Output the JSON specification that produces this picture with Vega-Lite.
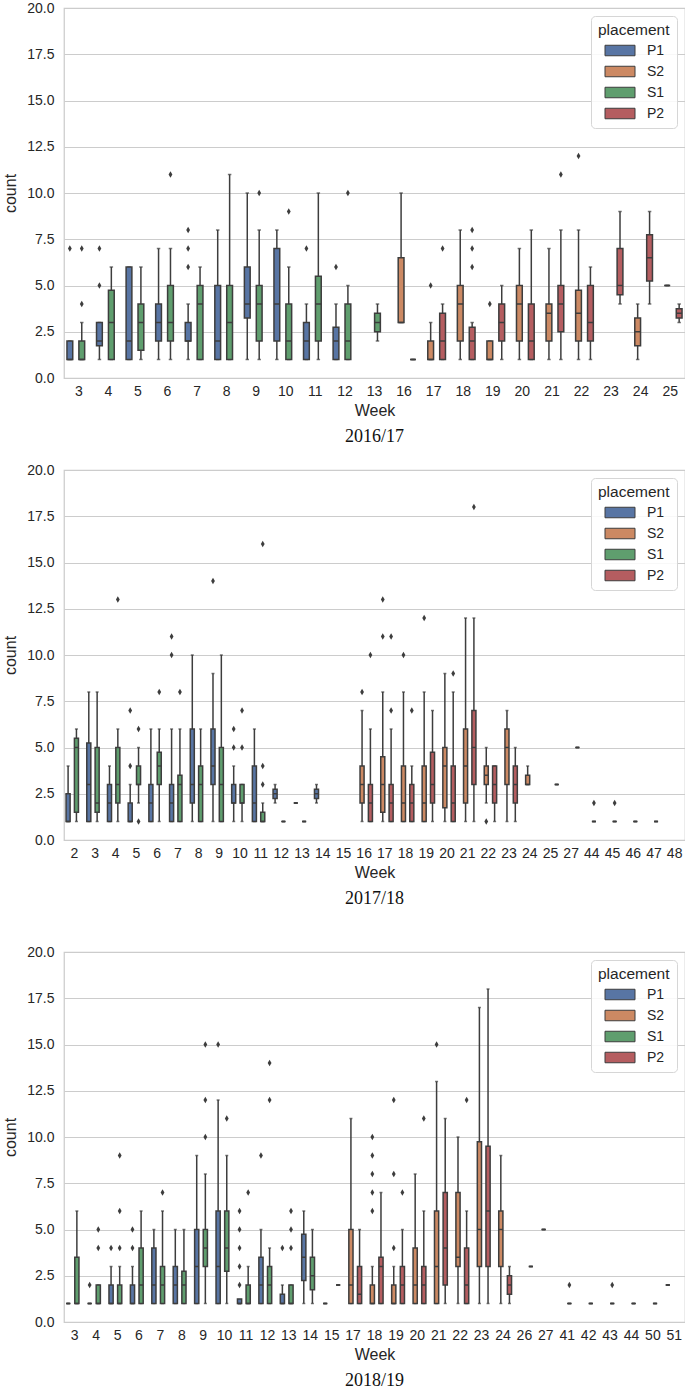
{
  "$schema": "https://vega.github.io/schema/vega-lite/v6.json",
  "padding": {"left": 2, "top": 0, "right": 0, "bottom": 0},
  "spacing": 15,
  "config": {
    "font": "Liberation Sans",
    "view": {"stroke": "#cccccc", "strokeWidth": 1.25},
    "axis": {"labelFontSize": 14, "titleFontSize": 16, "labelColor": "#262626", "titleColor": "#262626", "ticks": false, "domain": false, "gridColor": "#cccccc", "gridWidth": 1, "titleFontWeight": "normal", "labelFont": "Liberation Sans", "titleFont": "Liberation Sans"},
    "title": {"font": "Liberation Serif", "fontSize": 18, "fontWeight": "normal", "color": "#111111"},
    "legend": {"titleFontSize": 15.5, "titleFontWeight": "normal", "titleColor": "#262626", "titleFont": "Liberation Sans", "labelFontSize": 14, "labelColor": "#262626", "labelFont": "Liberation Sans", "symbolType": "M-2,-0.7H2V0.7H-2Z", "symbolSize": 225, "symbolOffset": 14, "symbolStrokeColor": "#3d3d3d", "symbolStrokeWidth": 1, "symbolOpacity": 1, "fillColor": "rgba(255,255,255,0.85)", "strokeColor": "#d6d6d6", "cornerRadius": 4, "padding": 7, "rowPadding": 5, "labelOffset": 19, "titlePadding": 4, "orient": "top-right", "offset": 8}
  },
  "resolve": {"scale": {"color": "independent", "x": "independent", "xOffset": "independent"}, "legend": {"color": "independent"}},
  "datasets": {
    "boxes": [
      {"season":"2016/17","week":3,"placement":"P1","low":1,"q1":1,"median":1,"q3":2,"high":2},
      {"season":"2016/17","week":3,"placement":"S1","low":1,"q1":1,"median":1,"q3":2,"high":3},
      {"season":"2016/17","week":4,"placement":"P1","low":1,"q1":1.75,"median":2,"q3":3,"high":3},
      {"season":"2016/17","week":4,"placement":"S1","low":1,"q1":1,"median":3,"q3":4.75,"high":6},
      {"season":"2016/17","week":5,"placement":"P1","low":1,"q1":1,"median":2,"q3":6,"high":6},
      {"season":"2016/17","week":5,"placement":"S1","low":1,"q1":1.5,"median":3,"q3":4,"high":6},
      {"season":"2016/17","week":6,"placement":"P1","low":1,"q1":2,"median":3,"q3":4,"high":7},
      {"season":"2016/17","week":6,"placement":"S1","low":1,"q1":2,"median":3,"q3":5,"high":7},
      {"season":"2016/17","week":7,"placement":"P1","low":1,"q1":2,"median":2,"q3":3,"high":4},
      {"season":"2016/17","week":7,"placement":"S1","low":1,"q1":1,"median":4,"q3":5,"high":6},
      {"season":"2016/17","week":8,"placement":"P1","low":1,"q1":1,"median":2,"q3":5,"high":8},
      {"season":"2016/17","week":8,"placement":"S1","low":1,"q1":1,"median":3,"q3":5,"high":11},
      {"season":"2016/17","week":9,"placement":"P1","low":1,"q1":3.25,"median":4,"q3":6,"high":10},
      {"season":"2016/17","week":9,"placement":"S1","low":1,"q1":2,"median":4,"q3":5,"high":8},
      {"season":"2016/17","week":10,"placement":"P1","low":1,"q1":2,"median":4,"q3":7,"high":8},
      {"season":"2016/17","week":10,"placement":"S1","low":1,"q1":1,"median":2,"q3":4,"high":6},
      {"season":"2016/17","week":11,"placement":"P1","low":1,"q1":1,"median":2,"q3":3,"high":4},
      {"season":"2016/17","week":11,"placement":"S1","low":1,"q1":2,"median":4,"q3":5.5,"high":10},
      {"season":"2016/17","week":12,"placement":"P1","low":1,"q1":1,"median":2,"q3":2.75,"high":4},
      {"season":"2016/17","week":12,"placement":"S1","low":1,"q1":1,"median":2,"q3":4,"high":5},
      {"season":"2016/17","week":13,"placement":"S1","low":2,"q1":2.5,"median":3,"q3":3.5,"high":4},
      {"season":"2016/17","week":16,"placement":"S2","low":3,"q1":3,"median":3,"q3":6.5,"high":10},
      {"season":"2016/17","week":16,"placement":"P2","low":1,"q1":1,"median":1,"q3":1,"high":1},
      {"season":"2016/17","week":17,"placement":"S2","low":1,"q1":1,"median":1,"q3":2,"high":3},
      {"season":"2016/17","week":17,"placement":"P2","low":1,"q1":1,"median":2,"q3":3.5,"high":4},
      {"season":"2016/17","week":18,"placement":"S2","low":1,"q1":2,"median":4,"q3":5,"high":8},
      {"season":"2016/17","week":18,"placement":"P2","low":1,"q1":1,"median":2,"q3":2.75,"high":3},
      {"season":"2016/17","week":19,"placement":"S2","low":1,"q1":1,"median":1,"q3":2,"high":2},
      {"season":"2016/17","week":19,"placement":"P2","low":1,"q1":2,"median":3,"q3":4,"high":5},
      {"season":"2016/17","week":20,"placement":"S2","low":1,"q1":2,"median":4,"q3":5,"high":7},
      {"season":"2016/17","week":20,"placement":"P2","low":1,"q1":1,"median":2,"q3":4,"high":8},
      {"season":"2016/17","week":21,"placement":"S2","low":1,"q1":2,"median":3.5,"q3":4,"high":7},
      {"season":"2016/17","week":21,"placement":"P2","low":1,"q1":2.5,"median":4,"q3":5,"high":8},
      {"season":"2016/17","week":22,"placement":"S2","low":1,"q1":2,"median":3.5,"q3":4.75,"high":8},
      {"season":"2016/17","week":22,"placement":"P2","low":1,"q1":2,"median":3,"q3":5,"high":6},
      {"season":"2016/17","week":23,"placement":"P2","low":4,"q1":4.5,"median":5,"q3":7,"high":9},
      {"season":"2016/17","week":24,"placement":"S2","low":1,"q1":1.75,"median":2.5,"q3":3.25,"high":4},
      {"season":"2016/17","week":24,"placement":"P2","low":4,"q1":5.25,"median":6.5,"q3":7.75,"high":9},
      {"season":"2016/17","week":25,"placement":"S2","low":5,"q1":5,"median":5,"q3":5,"high":5},
      {"season":"2016/17","week":25,"placement":"P2","low":3,"q1":3.25,"median":3.5,"q3":3.75,"high":4},

      {"season":"2017/18","week":2,"placement":"P1","low":1,"q1":1,"median":1,"q3":2.5,"high":4},
      {"season":"2017/18","week":2,"placement":"S1","low":1,"q1":1.5,"median":5,"q3":5.5,"high":6},
      {"season":"2017/18","week":3,"placement":"P1","low":1,"q1":1,"median":3,"q3":5.25,"high":8},
      {"season":"2017/18","week":3,"placement":"S1","low":1,"q1":1.5,"median":2,"q3":5,"high":8},
      {"season":"2017/18","week":4,"placement":"P1","low":1,"q1":1,"median":2,"q3":3,"high":4},
      {"season":"2017/18","week":4,"placement":"S1","low":1,"q1":2,"median":3,"q3":5,"high":6},
      {"season":"2017/18","week":5,"placement":"P1","low":1,"q1":1,"median":1,"q3":2,"high":3},
      {"season":"2017/18","week":5,"placement":"S1","low":2,"q1":3,"median":3,"q3":4,"high":5},
      {"season":"2017/18","week":6,"placement":"P1","low":1,"q1":1,"median":2,"q3":3,"high":6},
      {"season":"2017/18","week":6,"placement":"S1","low":1,"q1":3,"median":4,"q3":4.75,"high":6},
      {"season":"2017/18","week":7,"placement":"P1","low":1,"q1":1,"median":2,"q3":3,"high":6},
      {"season":"2017/18","week":7,"placement":"S1","low":1,"q1":1,"median":3,"q3":3.5,"high":6},
      {"season":"2017/18","week":8,"placement":"P1","low":1,"q1":2,"median":3,"q3":6,"high":10},
      {"season":"2017/18","week":8,"placement":"S1","low":1,"q1":1,"median":3,"q3":4,"high":6},
      {"season":"2017/18","week":9,"placement":"P1","low":1,"q1":3,"median":4,"q3":6,"high":9},
      {"season":"2017/18","week":9,"placement":"S1","low":1,"q1":1,"median":3,"q3":5,"high":10},
      {"season":"2017/18","week":10,"placement":"P1","low":1,"q1":2,"median":2,"q3":3,"high":4},
      {"season":"2017/18","week":10,"placement":"S1","low":1,"q1":2,"median":2,"q3":3,"high":3},
      {"season":"2017/18","week":11,"placement":"P1","low":1,"q1":1,"median":2,"q3":4,"high":6},
      {"season":"2017/18","week":11,"placement":"S1","low":1,"q1":1,"median":1,"q3":1.5,"high":2},
      {"season":"2017/18","week":12,"placement":"P1","low":2,"q1":2.25,"median":2.5,"q3":2.75,"high":3},
      {"season":"2017/18","week":12,"placement":"S1","low":1,"q1":1,"median":1,"q3":1,"high":1},
      {"season":"2017/18","week":13,"placement":"P1","low":2,"q1":2,"median":2,"q3":2,"high":2},
      {"season":"2017/18","week":13,"placement":"S1","low":1,"q1":1,"median":1,"q3":1,"high":1},
      {"season":"2017/18","week":14,"placement":"P1","low":2,"q1":2.25,"median":2.5,"q3":2.75,"high":3},
      {"season":"2017/18","week":16,"placement":"S2","low":1,"q1":2,"median":3,"q3":4,"high":7},
      {"season":"2017/18","week":16,"placement":"P2","low":1,"q1":1,"median":2,"q3":3,"high":6},
      {"season":"2017/18","week":17,"placement":"S2","low":1,"q1":1.5,"median":3,"q3":4.5,"high":8},
      {"season":"2017/18","week":17,"placement":"P2","low":1,"q1":1,"median":2,"q3":3,"high":6},
      {"season":"2017/18","week":18,"placement":"S2","low":1,"q1":1,"median":2,"q3":4,"high":8},
      {"season":"2017/18","week":18,"placement":"P2","low":1,"q1":1,"median":2,"q3":3,"high":4},
      {"season":"2017/18","week":19,"placement":"S2","low":1,"q1":1,"median":2,"q3":4,"high":8},
      {"season":"2017/18","week":19,"placement":"P2","low":1,"q1":2,"median":3,"q3":4.75,"high":7},
      {"season":"2017/18","week":20,"placement":"S2","low":1,"q1":1.75,"median":4,"q3":5,"high":9},
      {"season":"2017/18","week":20,"placement":"P2","low":1,"q1":1,"median":2,"q3":4,"high":8},
      {"season":"2017/18","week":21,"placement":"S2","low":1,"q1":2,"median":4,"q3":6,"high":12},
      {"season":"2017/18","week":21,"placement":"P2","low":1,"q1":3,"median":5,"q3":7,"high":12},
      {"season":"2017/18","week":22,"placement":"S2","low":2,"q1":3,"median":3.5,"q3":4,"high":5},
      {"season":"2017/18","week":22,"placement":"P2","low":1,"q1":2,"median":3,"q3":4,"high":4},
      {"season":"2017/18","week":23,"placement":"S2","low":1,"q1":3,"median":5,"q3":6,"high":7},
      {"season":"2017/18","week":23,"placement":"P2","low":1,"q1":2,"median":3,"q3":4,"high":5},
      {"season":"2017/18","week":24,"placement":"S2","low":3,"q1":3,"median":3,"q3":3.5,"high":4},
      {"season":"2017/18","week":25,"placement":"P2","low":3,"q1":3,"median":3,"q3":3,"high":3},
      {"season":"2017/18","week":27,"placement":"P2","low":5,"q1":5,"median":5,"q3":5,"high":5},
      {"season":"2017/18","week":44,"placement":"S1","low":1,"q1":1,"median":1,"q3":1,"high":1},
      {"season":"2017/18","week":45,"placement":"S1","low":1,"q1":1,"median":1,"q3":1,"high":1},
      {"season":"2017/18","week":46,"placement":"S1","low":1,"q1":1,"median":1,"q3":1,"high":1},
      {"season":"2017/18","week":47,"placement":"S1","low":1,"q1":1,"median":1,"q3":1,"high":1},

      {"season":"2018/19","week":3,"placement":"P1","low":1,"q1":1,"median":1,"q3":1,"high":1},
      {"season":"2018/19","week":3,"placement":"S1","low":1,"q1":1,"median":1,"q3":3.5,"high":6},
      {"season":"2018/19","week":4,"placement":"P1","low":1,"q1":1,"median":1,"q3":1,"high":1},
      {"season":"2018/19","week":4,"placement":"S1","low":1,"q1":1,"median":1,"q3":2,"high":2},
      {"season":"2018/19","week":5,"placement":"P1","low":1,"q1":1,"median":1,"q3":2,"high":3},
      {"season":"2018/19","week":5,"placement":"S1","low":1,"q1":1,"median":1,"q3":2,"high":3},
      {"season":"2018/19","week":6,"placement":"P1","low":1,"q1":1,"median":1,"q3":2,"high":3},
      {"season":"2018/19","week":6,"placement":"S1","low":1,"q1":1,"median":2,"q3":4,"high":6},
      {"season":"2018/19","week":7,"placement":"P1","low":1,"q1":1,"median":2,"q3":4,"high":5},
      {"season":"2018/19","week":7,"placement":"S1","low":1,"q1":1,"median":2,"q3":3,"high":6},
      {"season":"2018/19","week":8,"placement":"P1","low":1,"q1":1,"median":2,"q3":3,"high":5},
      {"season":"2018/19","week":8,"placement":"S1","low":1,"q1":1,"median":2,"q3":2.75,"high":5},
      {"season":"2018/19","week":9,"placement":"P1","low":1,"q1":1,"median":3,"q3":5,"high":9},
      {"season":"2018/19","week":9,"placement":"S1","low":1,"q1":3,"median":4,"q3":5,"high":8},
      {"season":"2018/19","week":10,"placement":"P1","low":1,"q1":1,"median":3,"q3":6,"high":12},
      {"season":"2018/19","week":10,"placement":"S1","low":1,"q1":2.75,"median":4,"q3":6,"high":9},
      {"season":"2018/19","week":11,"placement":"P1","low":1,"q1":1,"median":1,"q3":1.25,"high":1},
      {"season":"2018/19","week":11,"placement":"S1","low":1,"q1":1,"median":1,"q3":2,"high":3},
      {"season":"2018/19","week":12,"placement":"P1","low":1,"q1":1,"median":2,"q3":3.5,"high":5},
      {"season":"2018/19","week":12,"placement":"S1","low":1,"q1":1,"median":2,"q3":3,"high":4},
      {"season":"2018/19","week":13,"placement":"P1","low":1,"q1":1,"median":1,"q3":1.5,"high":2},
      {"season":"2018/19","week":13,"placement":"S1","low":1,"q1":1,"median":1,"q3":2,"high":2},
      {"season":"2018/19","week":14,"placement":"P1","low":1,"q1":2.25,"median":3.5,"q3":4.75,"high":6},
      {"season":"2018/19","week":14,"placement":"S1","low":1,"q1":1.75,"median":2.5,"q3":3.5,"high":5},
      {"season":"2018/19","week":15,"placement":"P1","low":1,"q1":1,"median":1,"q3":1,"high":1},
      {"season":"2018/19","week":15,"placement":"P2","low":2,"q1":2,"median":2,"q3":2,"high":2},
      {"season":"2018/19","week":17,"placement":"S2","low":1,"q1":1,"median":2,"q3":5,"high":11},
      {"season":"2018/19","week":17,"placement":"P2","low":1,"q1":1,"median":1.5,"q3":3,"high":5},
      {"season":"2018/19","week":18,"placement":"S2","low":1,"q1":1,"median":1,"q3":2,"high":3},
      {"season":"2018/19","week":18,"placement":"P2","low":1,"q1":1,"median":3,"q3":3.5,"high":7},
      {"season":"2018/19","week":19,"placement":"S2","low":1,"q1":1,"median":1,"q3":2,"high":3},
      {"season":"2018/19","week":19,"placement":"P2","low":1,"q1":1,"median":2,"q3":3,"high":5},
      {"season":"2018/19","week":20,"placement":"S2","low":1,"q1":1,"median":2,"q3":4,"high":8},
      {"season":"2018/19","week":20,"placement":"P2","low":1,"q1":1,"median":2,"q3":3,"high":6},
      {"season":"2018/19","week":21,"placement":"S2","low":1,"q1":1,"median":3,"q3":6,"high":13},
      {"season":"2018/19","week":21,"placement":"P2","low":1,"q1":2,"median":4,"q3":7,"high":11},
      {"season":"2018/19","week":22,"placement":"S2","low":1,"q1":3,"median":3.5,"q3":7,"high":10},
      {"season":"2018/19","week":22,"placement":"P2","low":1,"q1":1,"median":2,"q3":4,"high":6},
      {"season":"2018/19","week":23,"placement":"S2","low":1,"q1":3,"median":5,"q3":9.75,"high":17},
      {"season":"2018/19","week":23,"placement":"P2","low":1,"q1":3,"median":6,"q3":9.5,"high":18},
      {"season":"2018/19","week":24,"placement":"S2","low":1,"q1":3,"median":5,"q3":6,"high":9},
      {"season":"2018/19","week":24,"placement":"P2","low":1,"q1":1.5,"median":2,"q3":2.5,"high":3},
      {"season":"2018/19","week":26,"placement":"P2","low":3,"q1":3,"median":3,"q3":3,"high":3},
      {"season":"2018/19","week":27,"placement":"S2","low":5,"q1":5,"median":5,"q3":5,"high":5},
      {"season":"2018/19","week":41,"placement":"S1","low":1,"q1":1,"median":1,"q3":1,"high":1},
      {"season":"2018/19","week":42,"placement":"S1","low":1,"q1":1,"median":1,"q3":1,"high":1},
      {"season":"2018/19","week":43,"placement":"S1","low":1,"q1":1,"median":1,"q3":1,"high":1},
      {"season":"2018/19","week":44,"placement":"S1","low":1,"q1":1,"median":1,"q3":1,"high":1},
      {"season":"2018/19","week":50,"placement":"S1","low":1,"q1":1,"median":1,"q3":1,"high":1},
      {"season":"2018/19","week":51,"placement":"P1","low":2,"q1":2,"median":2,"q3":2,"high":2}
    ],
    "outliers": [
      {"season":"2016/17","week":3,"placement":"P1","value":7},
      {"season":"2016/17","week":3,"placement":"S1","value":4},
      {"season":"2016/17","week":3,"placement":"S1","value":7},
      {"season":"2016/17","week":4,"placement":"P1","value":5},
      {"season":"2016/17","week":4,"placement":"P1","value":7},
      {"season":"2016/17","week":6,"placement":"S1","value":11},
      {"season":"2016/17","week":7,"placement":"P1","value":6},
      {"season":"2016/17","week":7,"placement":"P1","value":7},
      {"season":"2016/17","week":7,"placement":"P1","value":8},
      {"season":"2016/17","week":9,"placement":"S1","value":10},
      {"season":"2016/17","week":10,"placement":"S1","value":9},
      {"season":"2016/17","week":11,"placement":"P1","value":7},
      {"season":"2016/17","week":12,"placement":"P1","value":6},
      {"season":"2016/17","week":12,"placement":"S1","value":10},
      {"season":"2016/17","week":17,"placement":"S2","value":5},
      {"season":"2016/17","week":17,"placement":"P2","value":7},
      {"season":"2016/17","week":18,"placement":"P2","value":6},
      {"season":"2016/17","week":18,"placement":"P2","value":7},
      {"season":"2016/17","week":18,"placement":"P2","value":8},
      {"season":"2016/17","week":19,"placement":"S2","value":4},
      {"season":"2016/17","week":21,"placement":"P2","value":11},
      {"season":"2016/17","week":22,"placement":"S2","value":12},

      {"season":"2017/18","week":4,"placement":"S1","value":13},
      {"season":"2017/18","week":5,"placement":"P1","value":4},
      {"season":"2017/18","week":5,"placement":"P1","value":7},
      {"season":"2017/18","week":5,"placement":"S1","value":1},
      {"season":"2017/18","week":5,"placement":"S1","value":6},
      {"season":"2017/18","week":6,"placement":"S1","value":8},
      {"season":"2017/18","week":7,"placement":"P1","value":10},
      {"season":"2017/18","week":7,"placement":"P1","value":11},
      {"season":"2017/18","week":7,"placement":"S1","value":8},
      {"season":"2017/18","week":9,"placement":"P1","value":14},
      {"season":"2017/18","week":10,"placement":"P1","value":5},
      {"season":"2017/18","week":10,"placement":"P1","value":6},
      {"season":"2017/18","week":10,"placement":"S1","value":5},
      {"season":"2017/18","week":10,"placement":"S1","value":7},
      {"season":"2017/18","week":11,"placement":"S1","value":3},
      {"season":"2017/18","week":11,"placement":"S1","value":4},
      {"season":"2017/18","week":11,"placement":"S1","value":16},
      {"season":"2017/18","week":16,"placement":"S2","value":8},
      {"season":"2017/18","week":16,"placement":"P2","value":10},
      {"season":"2017/18","week":17,"placement":"S2","value":11},
      {"season":"2017/18","week":17,"placement":"S2","value":13},
      {"season":"2017/18","week":17,"placement":"P2","value":7},
      {"season":"2017/18","week":17,"placement":"P2","value":11},
      {"season":"2017/18","week":18,"placement":"S2","value":10},
      {"season":"2017/18","week":18,"placement":"P2","value":7},
      {"season":"2017/18","week":19,"placement":"S2","value":12},
      {"season":"2017/18","week":20,"placement":"P2","value":9},
      {"season":"2017/18","week":21,"placement":"P2","value":18},
      {"season":"2017/18","week":22,"placement":"S2","value":1},
      {"season":"2017/18","week":44,"placement":"S1","value":2},
      {"season":"2017/18","week":45,"placement":"S1","value":2},

      {"season":"2018/19","week":4,"placement":"P1","value":2},
      {"season":"2018/19","week":4,"placement":"S1","value":4},
      {"season":"2018/19","week":4,"placement":"S1","value":5},
      {"season":"2018/19","week":5,"placement":"P1","value":4},
      {"season":"2018/19","week":5,"placement":"S1","value":4},
      {"season":"2018/19","week":5,"placement":"S1","value":6},
      {"season":"2018/19","week":5,"placement":"S1","value":9},
      {"season":"2018/19","week":6,"placement":"P1","value":4},
      {"season":"2018/19","week":6,"placement":"P1","value":5},
      {"season":"2018/19","week":7,"placement":"S1","value":7},
      {"season":"2018/19","week":9,"placement":"S1","value":10},
      {"season":"2018/19","week":9,"placement":"S1","value":12},
      {"season":"2018/19","week":9,"placement":"S1","value":15},
      {"season":"2018/19","week":10,"placement":"P1","value":15},
      {"season":"2018/19","week":10,"placement":"S1","value":11},
      {"season":"2018/19","week":11,"placement":"P1","value":2},
      {"season":"2018/19","week":11,"placement":"P1","value":3},
      {"season":"2018/19","week":11,"placement":"P1","value":4},
      {"season":"2018/19","week":11,"placement":"P1","value":5},
      {"season":"2018/19","week":11,"placement":"P1","value":6},
      {"season":"2018/19","week":11,"placement":"S1","value":7},
      {"season":"2018/19","week":12,"placement":"P1","value":9},
      {"season":"2018/19","week":12,"placement":"S1","value":12},
      {"season":"2018/19","week":12,"placement":"S1","value":14},
      {"season":"2018/19","week":13,"placement":"P1","value":4},
      {"season":"2018/19","week":13,"placement":"S1","value":4},
      {"season":"2018/19","week":13,"placement":"S1","value":5},
      {"season":"2018/19","week":13,"placement":"S1","value":6},
      {"season":"2018/19","week":18,"placement":"S2","value":6},
      {"season":"2018/19","week":18,"placement":"S2","value":7},
      {"season":"2018/19","week":18,"placement":"S2","value":8},
      {"season":"2018/19","week":18,"placement":"S2","value":9},
      {"season":"2018/19","week":18,"placement":"S2","value":10},
      {"season":"2018/19","week":19,"placement":"S2","value":4},
      {"season":"2018/19","week":19,"placement":"S2","value":8},
      {"season":"2018/19","week":19,"placement":"S2","value":12},
      {"season":"2018/19","week":19,"placement":"P2","value":7},
      {"season":"2018/19","week":20,"placement":"P2","value":11},
      {"season":"2018/19","week":21,"placement":"S2","value":15},
      {"season":"2018/19","week":22,"placement":"P2","value":12},
      {"season":"2018/19","week":41,"placement":"S1","value":2},
      {"season":"2018/19","week":43,"placement":"S1","value":2}
    ]
  },
  "vconcat": [
    {
      "width": 621, "height": 370,
      "title": {"text": "2016/17", "orient": "bottom", "offset": 10},
      "encoding": {
        "x": {"field": "week", "type": "ordinal", "scale": {"type": "band", "domain": [3,4,5,6,7,8,9,10,11,12,13,16,17,18,19,20,21,22,23,24,25], "paddingInner": 0.2, "paddingOuter": 0.1}, "axis": {"title": "Week", "labelAngle": 0, "labelPadding": 6, "titlePadding": 4, "grid": false}},
        "xOffset": {"field": "placement", "scale": {"domain": ["P1","S2","S1","P2"], "paddingInner": 0.03, "paddingOuter": 0}}
      },
      "layer": [
        {"data": {"name": "boxes"}, "transform": [{"filter": "datum.season == '2016/17'"}],
         "mark": {"type": "rule", "color": "#3d3d3d", "strokeWidth": 1.5},
         "encoding": {"y": {"field": "low", "type": "quantitative", "title": "count", "scale": {"domain": [0, 20], "nice": false, "zero": true}, "axis": {"values": [0,2.5,5,7.5,10,12.5,15,17.5,20], "format": ".1f", "labelPadding": 10, "titlePadding": 8, "grid": true}}, "y2": {"field": "high"}}},
        {"data": {"name": "boxes"}, "transform": [{"filter": "datum.season == '2016/17'"}],
         "mark": {"type": "tick", "color": "#3d3d3d", "thickness": 1.5, "size": 3.5},
         "encoding": {"y": {"field": "high", "type": "quantitative", "title": "count"}}},
        {"data": {"name": "boxes"}, "transform": [{"filter": "datum.season == '2016/17'"}],
         "mark": {"type": "tick", "color": "#3d3d3d", "thickness": 1.5, "size": 3.5},
         "encoding": {"y": {"field": "low", "type": "quantitative", "title": "count"}}},
        {"data": {"name": "boxes"}, "transform": [{"filter": "datum.season == '2016/17'"}],
         "mark": {"type": "bar", "stroke": "#3d3d3d", "strokeWidth": 1.5, "opacity": 1},
         "encoding": {"y": {"field": "q1", "type": "quantitative", "title": "count"}, "y2": {"field": "q3"},
           "color": {"field": "placement", "type": "nominal", "scale": {"domain": ["P1","S2","S1","P2"], "range": ["#5875a4","#cc8963","#5f9e6e","#b55d60"]}, "legend": {"title": "placement"}}}},
        {"data": {"name": "boxes"}, "transform": [{"filter": "datum.season == '2016/17'"}],
         "mark": {"type": "bar", "fill": "transparent", "stroke": "#3d3d3d", "strokeWidth": 1.5},
         "encoding": {"y": {"field": "median", "type": "quantitative", "title": "count"}, "y2": {"field": "median"}}},
        {"data": {"name": "outliers"}, "transform": [{"filter": "datum.season == '2016/17'"}],
         "mark": {"type": "point", "shape": "M0,-1L0.6,0L0,1L-0.6,0Z", "filled": true, "color": "#3d3d3d", "size": 40, "opacity": 1},
         "encoding": {"y": {"field": "value", "type": "quantitative", "title": "count"}}}
      ]
    },
    {
      "spacing": 35,
      "resolve": {"scale": {"color": "independent", "x": "independent", "xOffset": "independent"}, "legend": {"color": "independent"}},
      "vconcat": [
        {
          "width": 621, "height": 370,
          "title": {"text": "2017/18", "orient": "bottom", "offset": 10},
          "encoding": {
            "x": {"field": "week", "type": "ordinal", "scale": {"type": "band", "domain": [2,3,4,5,6,7,8,9,10,11,12,13,14,15,16,17,18,19,20,21,22,23,24,25,27,44,45,46,47,48], "paddingInner": 0.2, "paddingOuter": 0.1}, "axis": {"title": "Week", "labelAngle": 0, "labelPadding": 6, "titlePadding": 4, "grid": false}},
            "xOffset": {"field": "placement", "scale": {"domain": ["P1","S2","S1","P2"], "paddingInner": 0.03, "paddingOuter": 0}}
          },
          "layer": [
            {"data": {"name": "boxes"}, "transform": [{"filter": "datum.season == '2017/18'"}],
             "mark": {"type": "rule", "color": "#3d3d3d", "strokeWidth": 1.5},
             "encoding": {"y": {"field": "low", "type": "quantitative", "title": "count", "scale": {"domain": [0, 20], "nice": false, "zero": true}, "axis": {"values": [0,2.5,5,7.5,10,12.5,15,17.5,20], "format": ".1f", "labelPadding": 10, "titlePadding": 8, "grid": true}}, "y2": {"field": "high"}}},
            {"data": {"name": "boxes"}, "transform": [{"filter": "datum.season == '2017/18'"}],
             "mark": {"type": "tick", "color": "#3d3d3d", "thickness": 1.5, "size": 3},
             "encoding": {"y": {"field": "high", "type": "quantitative", "title": "count"}}},
            {"data": {"name": "boxes"}, "transform": [{"filter": "datum.season == '2017/18'"}],
             "mark": {"type": "tick", "color": "#3d3d3d", "thickness": 1.5, "size": 3},
             "encoding": {"y": {"field": "low", "type": "quantitative", "title": "count"}}},
            {"data": {"name": "boxes"}, "transform": [{"filter": "datum.season == '2017/18'"}],
             "mark": {"type": "bar", "stroke": "#3d3d3d", "strokeWidth": 1.5, "opacity": 1},
             "encoding": {"y": {"field": "q1", "type": "quantitative", "title": "count"}, "y2": {"field": "q3"},
               "color": {"field": "placement", "type": "nominal", "scale": {"domain": ["P1","S2","S1","P2"], "range": ["#5875a4","#cc8963","#5f9e6e","#b55d60"]}, "legend": {"title": "placement"}}}},
            {"data": {"name": "boxes"}, "transform": [{"filter": "datum.season == '2017/18'"}],
             "mark": {"type": "bar", "fill": "transparent", "stroke": "#3d3d3d", "strokeWidth": 1.5},
             "encoding": {"y": {"field": "median", "type": "quantitative", "title": "count"}, "y2": {"field": "median"}}},
            {"data": {"name": "outliers"}, "transform": [{"filter": "datum.season == '2017/18'"}],
             "mark": {"type": "point", "shape": "M0,-1L0.6,0L0,1L-0.6,0Z", "filled": true, "color": "#3d3d3d", "size": 40, "opacity": 1},
             "encoding": {"y": {"field": "value", "type": "quantitative", "title": "count"}}}
          ]
        },
        {
          "width": 621, "height": 370,
          "title": {"text": "2018/19", "orient": "bottom", "offset": 10},
          "encoding": {
            "x": {"field": "week", "type": "ordinal", "scale": {"type": "band", "domain": [3,4,5,6,7,8,9,10,11,12,13,14,15,17,18,19,20,21,22,23,24,26,27,41,42,43,44,50,51], "paddingInner": 0.2, "paddingOuter": 0.1}, "axis": {"title": "Week", "labelAngle": 0, "labelPadding": 6, "titlePadding": 4, "grid": false}},
            "xOffset": {"field": "placement", "scale": {"domain": ["P1","S2","S1","P2"], "paddingInner": 0.03, "paddingOuter": 0}}
          },
          "layer": [
            {"data": {"name": "boxes"}, "transform": [{"filter": "datum.season == '2018/19'"}],
             "mark": {"type": "rule", "color": "#3d3d3d", "strokeWidth": 1.5},
             "encoding": {"y": {"field": "low", "type": "quantitative", "title": "count", "scale": {"domain": [0, 20], "nice": false, "zero": true}, "axis": {"values": [0,2.5,5,7.5,10,12.5,15,17.5,20], "format": ".1f", "labelPadding": 10, "titlePadding": 8, "grid": true}}, "y2": {"field": "high"}}},
            {"data": {"name": "boxes"}, "transform": [{"filter": "datum.season == '2018/19'"}],
             "mark": {"type": "tick", "color": "#3d3d3d", "thickness": 1.5, "size": 3},
             "encoding": {"y": {"field": "high", "type": "quantitative", "title": "count"}}},
            {"data": {"name": "boxes"}, "transform": [{"filter": "datum.season == '2018/19'"}],
             "mark": {"type": "tick", "color": "#3d3d3d", "thickness": 1.5, "size": 3},
             "encoding": {"y": {"field": "low", "type": "quantitative", "title": "count"}}},
            {"data": {"name": "boxes"}, "transform": [{"filter": "datum.season == '2018/19'"}],
             "mark": {"type": "bar", "stroke": "#3d3d3d", "strokeWidth": 1.5, "opacity": 1},
             "encoding": {"y": {"field": "q1", "type": "quantitative", "title": "count"}, "y2": {"field": "q3"},
               "color": {"field": "placement", "type": "nominal", "scale": {"domain": ["P1","S2","S1","P2"], "range": ["#5875a4","#cc8963","#5f9e6e","#b55d60"]}, "legend": {"title": "placement"}}}},
            {"data": {"name": "boxes"}, "transform": [{"filter": "datum.season == '2018/19'"}],
             "mark": {"type": "bar", "fill": "transparent", "stroke": "#3d3d3d", "strokeWidth": 1.5},
             "encoding": {"y": {"field": "median", "type": "quantitative", "title": "count"}, "y2": {"field": "median"}}},
            {"data": {"name": "outliers"}, "transform": [{"filter": "datum.season == '2018/19'"}],
             "mark": {"type": "point", "shape": "M0,-1L0.6,0L0,1L-0.6,0Z", "filled": true, "color": "#3d3d3d", "size": 40, "opacity": 1},
             "encoding": {"y": {"field": "value", "type": "quantitative", "title": "count"}}}
          ]
        }
      ]
    }
  ]
}
